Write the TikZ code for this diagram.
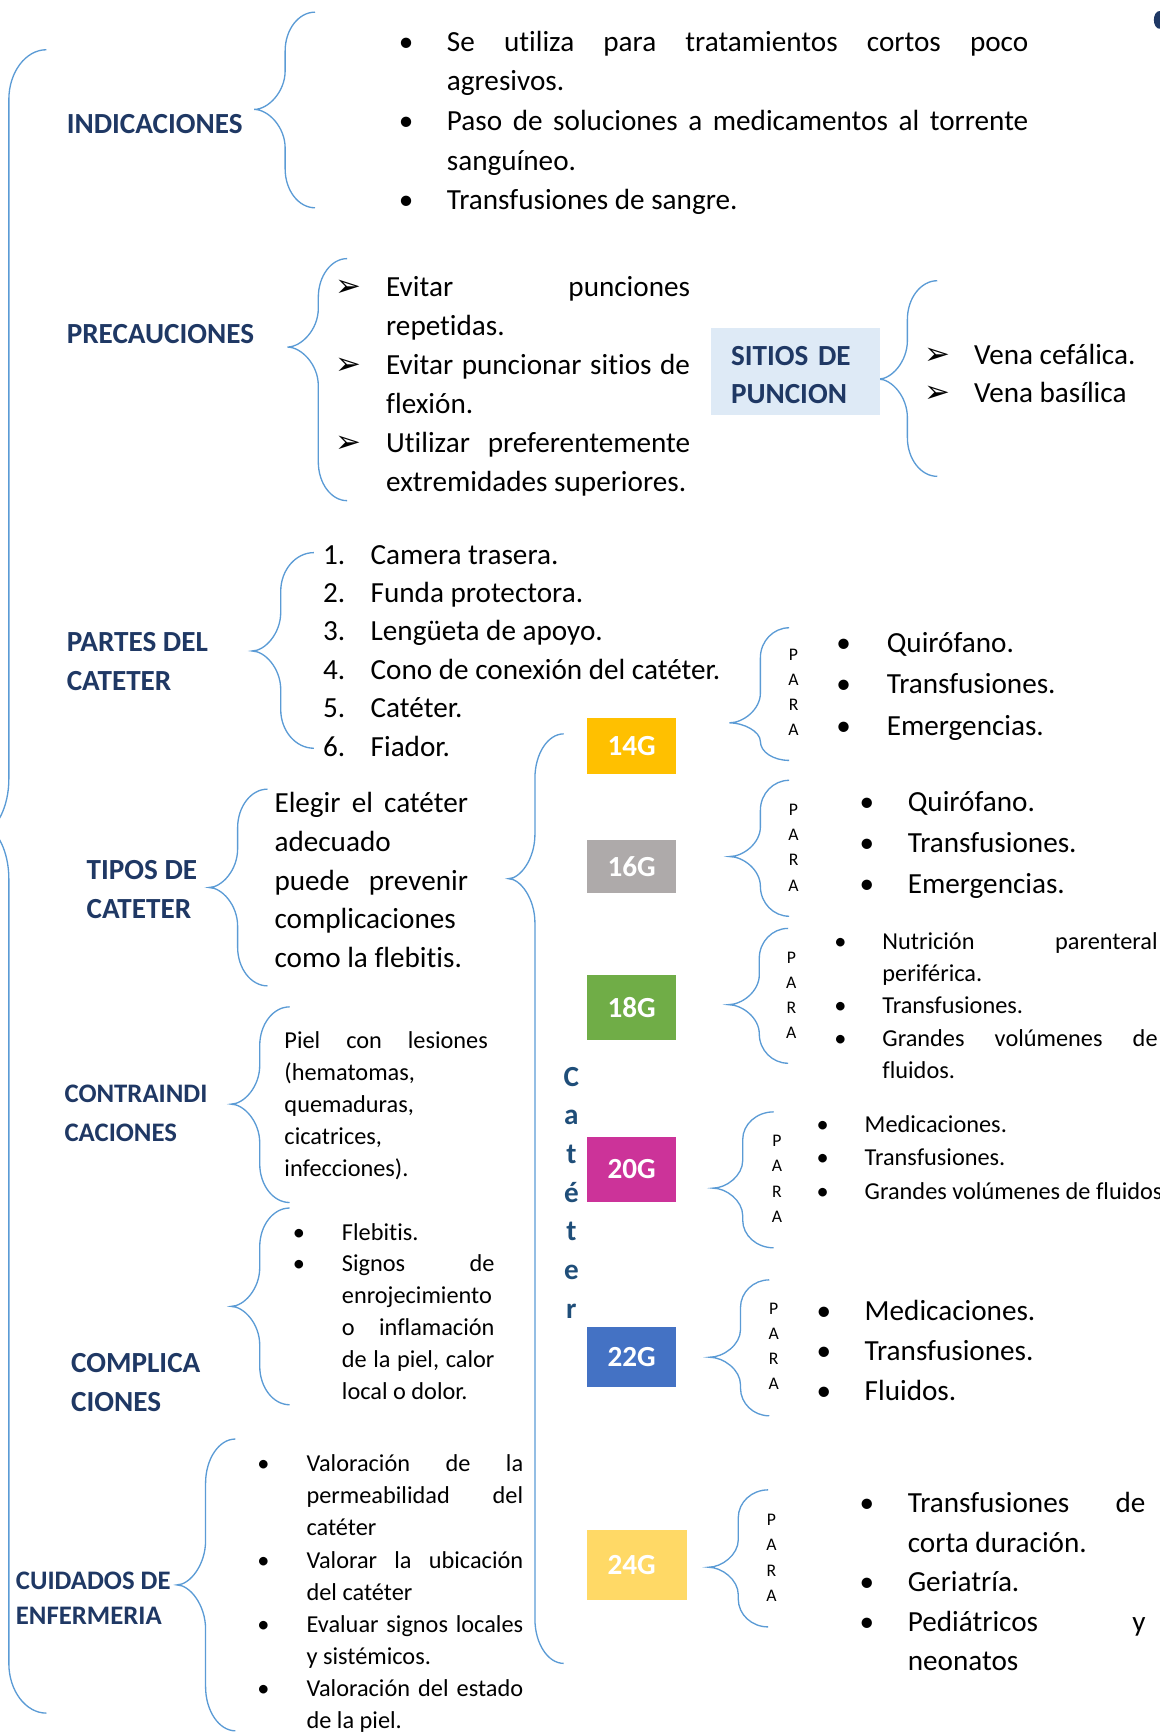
\documentclass[tikz,border=0pt]{standalone}
\usepackage{fontspec}
\setmainfont{Carlito}[Ligatures=NoCommon, WordSpace={1,1,0}]
\newfontfamily\dejavu{DejaVu Sans}
\usetikzlibrary{positioning}
\definecolor{azulosc}{HTML}{1F3864}
\definecolor{azulcat}{HTML}{1F4E79}
\definecolor{llavecol}{HTML}{5B9BD5}
\definecolor{celeste}{HTML}{DEEAF6}
\definecolor{amarillo}{HTML}{FFC000}
\definecolor{gris}{HTML}{AEAAAA}
\definecolor{verde}{HTML}{70AD47}
\definecolor{fucsia}{HTML}{CC3399}
\definecolor{azulg}{HTML}{4472C4}
\definecolor{amarillocl}{HTML}{FFD966}
\newcommand{\tam}[2]{\fontsize{#1}{#2}\selectfont}
\newcommand{\pto}[1]{\noindent\strut\llap{\makebox[#1][l]{\makebox[0pt]{\textbullet}}}}
\newcommand{\fle}[1]{\noindent\strut\llap{\makebox[#1][l]{\makebox[0pt]{\dejavu\tam{14}{14}➢}}}}
\newcommand{\nro}[2]{\noindent\strut\llap{\makebox[#1][l]{#2}}}
% llave: x linea, x puntas, x pico, y arriba, y pico, y abajo, curva
\newcommand{\llave}[7]{%
	\pgfmathsetmacro{\llA}{min(#7,(#5-(#4))/2)}
	\pgfmathsetmacro{\llB}{min(#7,(#6-(#5))/2)}
	\draw[llave] (#2,#4) .. controls ({#1+0.45*(#2-(#1))},#4) and (#1,{#4+0.45*\llA}) .. (#1,{#4+\llA})
		-- (#1,{#5-\llA}) .. controls (#1,{#5-0.45*\llA}) and ({#3+0.45*(#1-(#3))},#5) .. (#3,#5)
		.. controls ({#3+0.45*(#1-(#3))},#5) and (#1,{#5+0.45*\llB}) .. (#1,{#5+\llB})
		-- (#1,{#6-\llB}) .. controls (#1,{#6-0.45*\llB}) and ({#1+0.45*(#2-(#1))},#6) .. (#2,#6);}
\hyphenpenalty=10000
\exhyphenpenalty=10000
\tolerance=10000
\tikzstyle{titulo} = [anchor=north west, inner sep=0pt, text=azulosc, align=left]
\tikzstyle{lista} = [anchor=north west, inner sep=0pt, align=justify]
\tikzstyle{calibre} = [text=white, font=\bfseries\tam{13.2}{16}, minimum width=40.5pt, inner sep=0pt]
\tikzstyle{para} = [font=\tam{8}{11.4}, align=center, inner sep=0pt]
\tikzstyle{llave} = [draw=llavecol, line width=0.6pt]

\begin{document}
\begin{tikzpicture}[x=0.5pt, y=-0.5pt]
	\useasboundingbox (0,0) rectangle (1049,1568);
	% llaves
	\llave{8}{42}{-12}{45}{750}{1550}{45}
	\llave{258}{285}{230}{11}{99}{188}{35}
	\llave{288}{314}{260}{234}{314}{453}{35}
	\llave{821}{848}{795}{254}{343}{431}{35}
	\llave{254}{284}{228}{500}{589}{677}{35}
	\llave{215}{242}{189}{714}{803}{892}{35}
	\llave{235}{262}{209}{911}{999}{1088}{35}
	\llave{235}{262}{209}{1093}{1182}{1271}{35}
	\llave{186}{213}{160}{1302}{1434}{1566}{40}
	\llave{484}{510}{460}{664}{795}{1505}{40}
	\llave{688}{714}{660}{568}{654}{688}{27}
	\llave{688}{714}{660}{706}{775}{829}{27}
	\llave{687}{713}{659}{840}{909}{962}{27}
	\llave{672}{700}{645}{1006}{1075}{1129}{25}
	\llave{670}{696}{642}{1158}{1228}{1281}{25}
	\llave{668}{695}{641}{1348}{1418}{1472}{25}
	% titulos
	\node[titulo, font=\bfseries\tam{13.2}{17.5}] (indicaciones) at (60,96) {\strut INDICACIONES};
	\node[titulo, font=\bfseries\tam{13.2}{17.5}] (precauciones) at (60,286) {\strut PRECAUCIONES};
	\node[titulo, font=\bfseries\tam{13.2}{17.5}] (partes) at (60,565) {\strut PARTES DEL\\CATETER};
	\node[titulo, font=\bfseries\tam{13.2}{17.5}] (tipos) at (78,771) {\strut TIPOS DE\\CATETER};
	\node[titulo, font=\bfseries\tam{12.1}{17.5}] (contra) at (58,973) {\strut CONTRAINDI\\CACIONES};
	\node[titulo, font=\bfseries\tam{13.2}{17.5}] (complica) at (64,1217) {\strut COMPLICA\\CIONES};
	\node[titulo, font=\bfseries\tam{12.1}{16}] (cuidados) at (14,1415) {\strut CUIDADOS DE\\ENFERMERIA};
	\node[titulo, fill=celeste, font=\bfseries\tam{13.2}{17}, text width=58.5pt, minimum height=39.5pt,
		inner xsep=9pt] (sitios) at (643,296) {\strut SITIOS DE\\PUNCION};
	% listas
	\node[lista, text width=263pt, font=\tam{13.2}{17.9}] (listaIndic) at (404,21) {%
		\pto{18.5pt}Se utiliza para tratamientos cortos poco agresivos.\par
		\pto{18.5pt}Paso de soluciones a medicamentos al torrente sanguíneo.\par
		\pto{18.5pt}Transfusiones de sangre.};
	\node[lista, text width=137.5pt, font=\tam{13.2}{17.6}] (listaPrec) at (349,243.4) {%
		\fle{17pt}Evitar punciones repetidas.\par
		\fle{17pt}Evitar puncionar sitios de flexión.\par
		\fle{17pt}Utilizar preferentemente extremidades superiores.};
	\node[lista, text width=80pt, font=\tam{13.2}{17}] (listaVenas) at (881,306) {%
		\fle{16.5pt}Vena cefálica.\par
		\fle{16.5pt}Vena basílica};
	\node[lista, text width=170pt, font=\tam{13.2}{17.4}] (listaPartes) at (335,485.6) {%
		\nro{21.5pt}{1.}Camera trasera.\par
		\nro{21.5pt}{2.}Funda protectora.\par
		\nro{21.5pt}{3.}Lengüeta de apoyo.\par
		\nro{21.5pt}{4.}Cono de conexión del catéter.\par
		\nro{21.5pt}{5.}Catéter.\par
		\nro{21.5pt}{6.}Fiador.};
	\node[lista, text width=87.5pt, font=\tam{13.2}{17.5}] (textoTipos) at (248,710.5) {%
		\noindent\strut Elegir el catéter adecuado puede prevenir complicaciones como la flebitis.};
	\node[lista, text width=92pt, font=\tam{11}{14.4}] (textoContra) at (257,928.4) {%
		\noindent\strut Piel con lesiones (hematomas, quemaduras, cicatrices, infecciones).};
	\node[lista, text width=69pt, font=\tam{11}{14.4}] (listaCompl) at (309,1101.4) {%
		\pto{19.5pt}Flebitis.\par
		\pto{19.5pt}Signos de enrojecimiento o inflamación de la piel, calor local o dolor.};
	\node[lista, text width=98pt, font=\tam{11}{14.5}] (listaCuid) at (277,1311) {%
		\pto{19.5pt}Valoración de la permeabilidad del catéter\par
		\pto{19.5pt}Valorar la ubicación del catéter\par
		\pto{19.5pt}Evaluar signos locales y sistémicos.\par
		\pto{19.5pt}Valoración del estado de la piel.};
	% cateter
	\node[font=\bfseries\tam{13.2}{17.5}, text=azulcat, align=center, inner sep=0pt] (cateter) at (517,1079)
		{C\\a\\t\\é\\t\\e\\r};
	\node[calibre, fill=amarillo, minimum height=25pt] (g14) at (571.5,675) {14G};
	\node[calibre, fill=gris, minimum height=24pt] (g16) at (571.5,784) {16G};
	\node[calibre, fill=verde, minimum height=29.5pt] (g18) at (571.5,911.5) {18G};
	\node[calibre, fill=fucsia, minimum height=29.5pt] (g20) at (571.5,1058) {20G};
	\node[calibre, fill=azulg, minimum height=27pt] (g22) at (571.5,1228) {22G};
	\node[calibre, fill=amarillocl, minimum width=45.5pt, minimum height=31.5pt] (g24) at (576.5,1416) {24G\kern5pt};
	\node[para] (para14) at (718,626.5) {P\\A\\R\\A};
	\node[para] (para16) at (718,767) {P\\A\\R\\A};
	\node[para] (para18) at (716,900.5) {P\\A\\R\\A};
	\node[para] (para20) at (703,1066.5) {P\\A\\R\\A};
	\node[para] (para22) at (700,1218) {P\\A\\R\\A};
	\node[para] (para24) at (698,1409.5) {P\\A\\R\\A};
	\node[lista, text width=100pt, font=\tam{13.2}{18.75}] (usos14) at (802,563.75) {%
		\pto{19.5pt}Quirófano.\par
		\pto{19.5pt}Transfusiones.\par
		\pto{19.5pt}Emergencias.};
	\node[lista, text width=100pt, font=\tam{13.2}{18.5}] (usos16) at (821,708) {%
		\pto{18.5pt}Quirófano.\par
		\pto{18.5pt}Transfusiones.\par
		\pto{18.5pt}Emergencias.};
	\node[lista, text width=124.5pt, font=\tam{11}{14.6}] (usos18) at (798,838) {%
		\pto{19pt}Nutrición parenteral periférica.\par
		\pto{19pt}Transfusiones.\par
		\pto{19pt}Grandes volúmenes de fluidos.};
	\node[lista, text width=150pt, font=\tam{11}{15}] (usos20) at (782,1003.5) {%
		\pto{19pt}Medicaciones.\par
		\pto{19pt}Transfusiones.\par
		\pto{19pt}Grandes volúmenes de fluidos};
	\node[lista, text width=100pt, font=\tam{13.2}{18.25}] (usos22) at (782,1168.5) {%
		\pto{18.5pt}Medicaciones.\par
		\pto{18.5pt}Transfusiones.\par
		\pto{18.5pt}Fluidos.};
	\node[lista, text width=107.5pt, font=\tam{13.2}{17.9}] (usos24) at (821,1343) {%
		\pto{18.5pt}Transfusiones de corta duración.\par
		\pto{18.5pt}Geriatría.\par
		\pto{18.5pt}Pediátricos y neonatos};
	\fill[azulosc] (1049,18) ellipse [x radius=2.5pt, y radius=4pt];
\end{tikzpicture}
\end{document}
